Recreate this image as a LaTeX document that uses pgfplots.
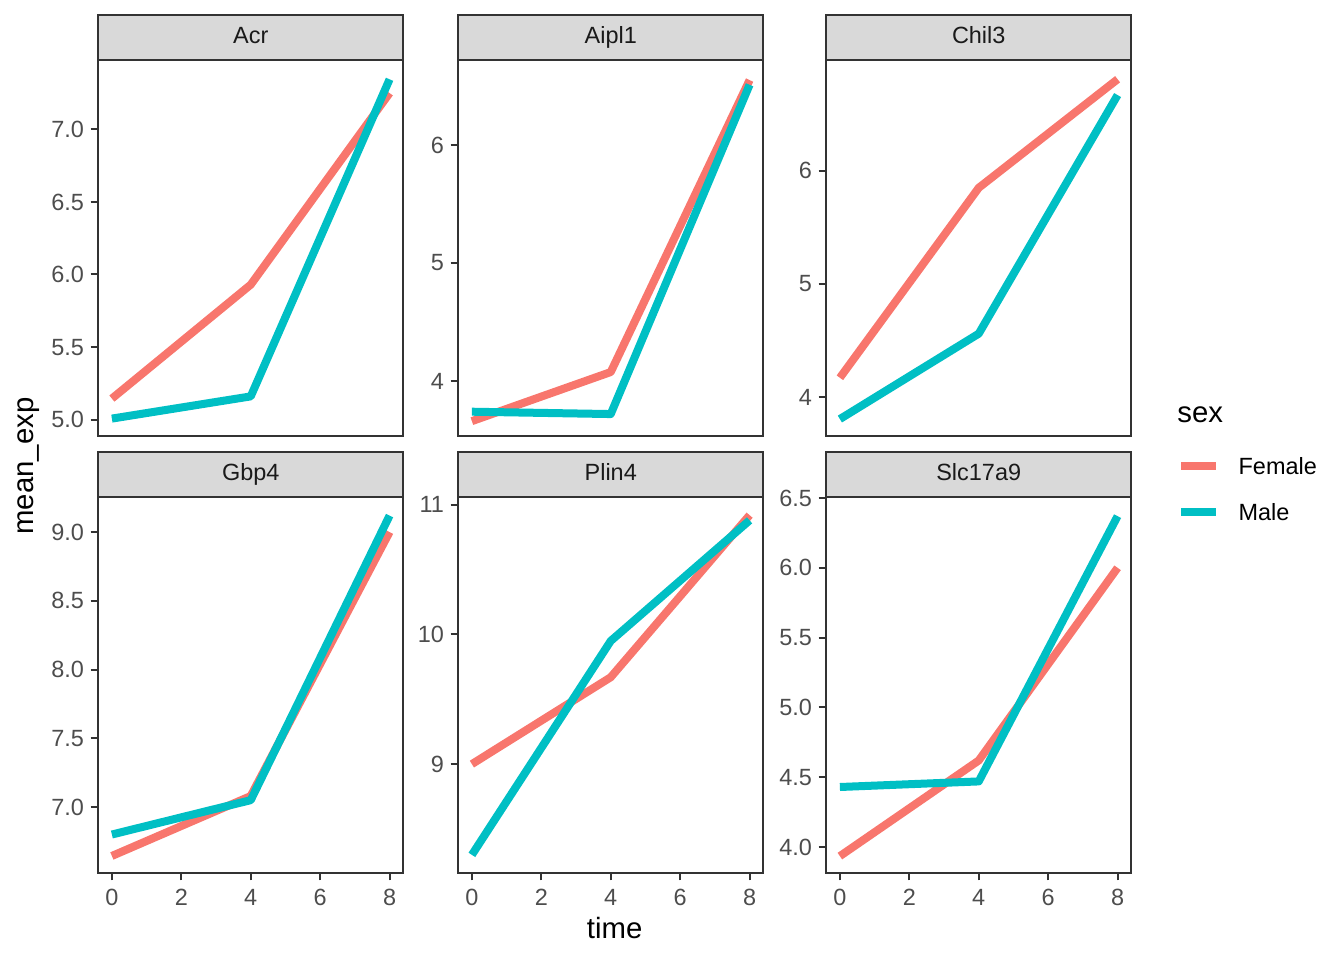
\documentclass[border=0pt]{standalone}
\usepackage{fontspec}
\setmainfont{Liberation Sans}
\usepackage{pgfplots}
\pgfplotsset{compat=1.18}

\definecolor{female}{HTML}{F8766D}
\definecolor{male}{HTML}{00BFC4}
\definecolor{gray20}{HTML}{333333}
\definecolor{gray30}{HTML}{4D4D4D}
\definecolor{stripgray}{HTML}{D9D9D9}
\definecolor{gray10}{HTML}{1A1A1A}

\newcommand{\smallfont}{\fontsize{8.8}{10}\selectfont}
\newcommand{\bigfont}{\fontsize{11}{13}\selectfont}

\pgfplotsset{
  facet/.style={
    scale only axis, width=114.56pt, height=141pt,
    anchor=north west,
    xmin=-0.4, xmax=8.4,
    xtick pos=bottom, ytick pos=left,
    tick align=outside,
    major tick length=2.75pt,
    axis line style={draw=gray20, line width=0.75pt},
    every tick/.style={draw=gray20, line width=0.75pt},
    ticklabel style={font=\smallfont, text=gray30},
    xticklabel style={inner sep=3pt},
    yticklabel style={inner sep=2.3pt},
    /pgf/number format/assume math mode=true,
    every axis title shift=0pt,
    title style={at={(axis description cs:0.5,1)}, anchor=south,
      fill=stripgray, draw=gray20, line width=0.75pt,
      minimum width=114.56pt, minimum height=16.9pt,
      text height=6.4pt, text depth=1.8pt,
      inner sep=0pt, outer sep=0pt, font=\smallfont, text=gray10},
    every axis plot/.append style={line width=3pt, line join=round},
  },
  toprow/.style={xtick=\empty},
  botrow/.style={xtick={0,2,4,6,8}},
  dec1/.style={yticklabel style={/pgf/number format/.cd, fixed, fixed zerofill, precision=1}},
}

\begin{document}
\begin{tikzpicture}
\useasboundingbox (0,0) rectangle (504pt,-360pt);

% Acr
\begin{axis}[facet, toprow, dec1, at={(36.75pt,-22.5pt)}, title={Acr},
  ymin=4.887, ymax=7.478, ytick={5,5.5,6,6.5,7}]
\addplot[female] coordinates {(0,5.145) (4,5.93) (8,7.25)};
\addplot[male] coordinates {(0,5.007) (4,5.16) (8,7.345)};
\end{axis}

% Aipl1
\begin{axis}[facet, toprow, at={(171.75pt,-22.5pt)}, title={Aipl1},
  ymin=3.534, ymax=6.72, ytick={4,5,6}]
\addplot[female] coordinates {(0,3.66) (4,4.076) (8,6.55)};
\addplot[male] coordinates {(0,3.74) (4,3.72) (8,6.51)};
\end{axis}

% Chil3
\begin{axis}[facet, toprow, at={(309.75pt,-22.5pt)}, title={Chil3},
  ymin=3.655, ymax=6.98, ytick={4,5,6}]
\addplot[female] coordinates {(0,4.17) (4,5.85) (8,6.81)};
\addplot[male] coordinates {(0,3.805) (4,4.56) (8,6.67)};
\end{axis}

% Gbp4
\begin{axis}[facet, botrow, dec1, at={(36.75pt,-186.375pt)}, title={Gbp4},
  ymin=6.52, ymax=9.255, ytick={7,7.5,8,8.5,9}]
\addplot[female] coordinates {(0,6.644) (4,7.08) (8,9.0)};
\addplot[male] coordinates {(0,6.80) (4,7.05) (8,9.12)};
\end{axis}

% Plin4
\begin{axis}[facet, botrow, at={(171.75pt,-186.375pt)}, title={Plin4},
  ymin=8.16, ymax=11.06, ytick={9,10,11}]
\addplot[female] coordinates {(0,9.0) (4,9.67) (8,10.92)};
\addplot[male] coordinates {(0,8.30) (4,9.95) (8,10.88)};
\end{axis}

% Slc17a9
\begin{axis}[facet, botrow, dec1, at={(309.75pt,-186.375pt)}, title={Slc17a9},
  ymin=3.814, ymax=6.507, ytick={4,4.5,5,5.5,6,6.5},
  legend style={at={(axis description cs:1.150,1.0212)}, anchor=west,
    draw=none, fill=none, inner sep=0pt, outer sep=0pt,
    font=\smallfont, row sep=11.25pt,
    nodes={inner sep=0pt, text height=6.3pt, text depth=0pt},
    /tikz/every odd column/.append style={column sep=6.9pt}},
  legend cell align=left,
  legend image code/.code={\draw[#1] (0pt,0pt) -- (13.1pt,0pt);}]
\addplot[female] coordinates {(0,3.935) (4,4.62) (8,6.0)};
\addlegendentry{Female}
\addplot[male] coordinates {(0,4.43) (4,4.47) (8,6.37)};
\addlegendentry{Male}
\end{axis}

\node[anchor=west, inner sep=0pt, font=\bigfont] at (441.3pt,-155.6pt) {sex};
\node[rotate=90, font=\bigfont, inner sep=0pt] at (10.9pt,-174.8pt) {mean\_exp};
\node[font=\bigfont, inner sep=0pt] at (230.5pt,-348pt) {time};
\end{tikzpicture}
\end{document}
